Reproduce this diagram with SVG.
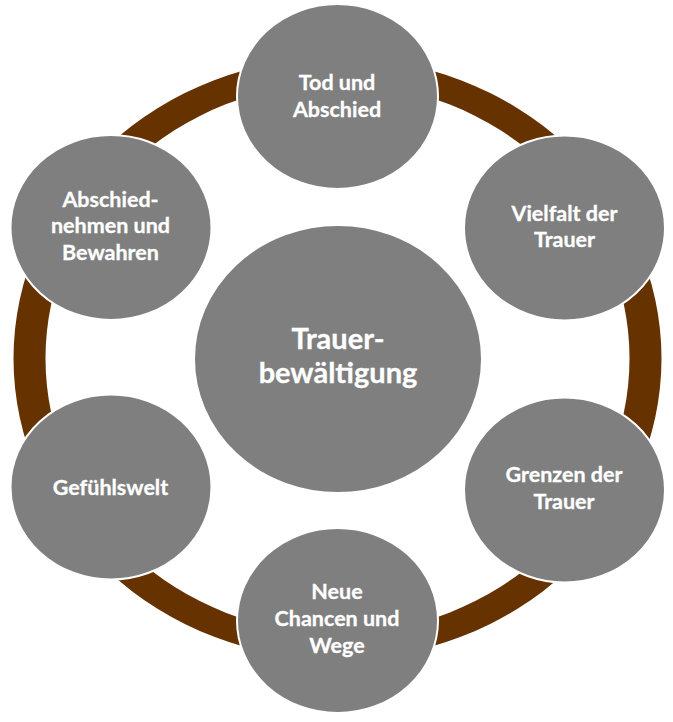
<svg xmlns="http://www.w3.org/2000/svg" width="673" height="722" viewBox="0 0 673 722">
<style>
.n{fill:#7f7f7f;stroke:#ffffff;stroke-width:2}
.t{font-family:Lato,"Open Sans","Noto Sans",sans-serif;font-weight:bold;fill:#ffffff;text-anchor:middle;font-size:21.5px;stroke:#ffffff;stroke-width:0.3}
.c{font-size:29px}
</style>
<rect width="673" height="722" fill="#ffffff"/>
<g id="connectors">
<path d="M13.5,358.5 a324,301 0 1,0 648,0 a324,301 0 1,0 -648,0 Z M45.5,358.5 a292,275 0 1,0 584,0 a292,275 0 1,0 -584,0 Z" fill="#663300" fill-rule="evenodd"/>
</g>
<g id="center">
<ellipse class="n" cx="338" cy="359" rx="144" ry="134"/>
<text class="t c" x="338" y="349">Trauer-</text>
<text class="t c" x="338" y="383">bewältigung</text>
</g>
<g id="n1">
<ellipse class="n" cx="337.5" cy="96.5" rx="100.5" ry="92.5"/>
<text class="t" x="337" y="90">Tod und</text>
<text class="t" x="337" y="117">Abschied</text>
</g>
<g id="n2">
<ellipse class="n" cx="564.5" cy="228" rx="100.5" ry="92.5"/>
<text class="t" x="564.5" y="221">Vielfalt der</text>
<text class="t" x="564.5" y="247">Trauer</text>
</g>
<g id="n3">
<ellipse class="n" cx="564.5" cy="490" rx="100.5" ry="92.5"/>
<text class="t" x="564" y="482">Grenzen der</text>
<text class="t" x="564" y="509">Trauer</text>
</g>
<g id="n4">
<ellipse class="n" cx="337.5" cy="620.5" rx="100.5" ry="92.5"/>
<text class="t" x="337" y="599">Neue</text>
<text class="t" x="337" y="626">Chancen und</text>
<text class="t" x="337" y="653">Wege</text>
</g>
<g id="n5">
<ellipse class="n" cx="111" cy="487" rx="100.5" ry="92.5"/>
<text class="t" x="110.5" y="495">Gefühlswelt</text>
</g>
<g id="n6">
<ellipse class="n" cx="111" cy="227.5" rx="100.5" ry="92.5"/>
<text class="t" x="110.5" y="207">Abschied-</text>
<text class="t" x="110.5" y="233">nehmen und</text>
<text class="t" x="110.5" y="260">Bewahren</text>
</g>
</svg>
